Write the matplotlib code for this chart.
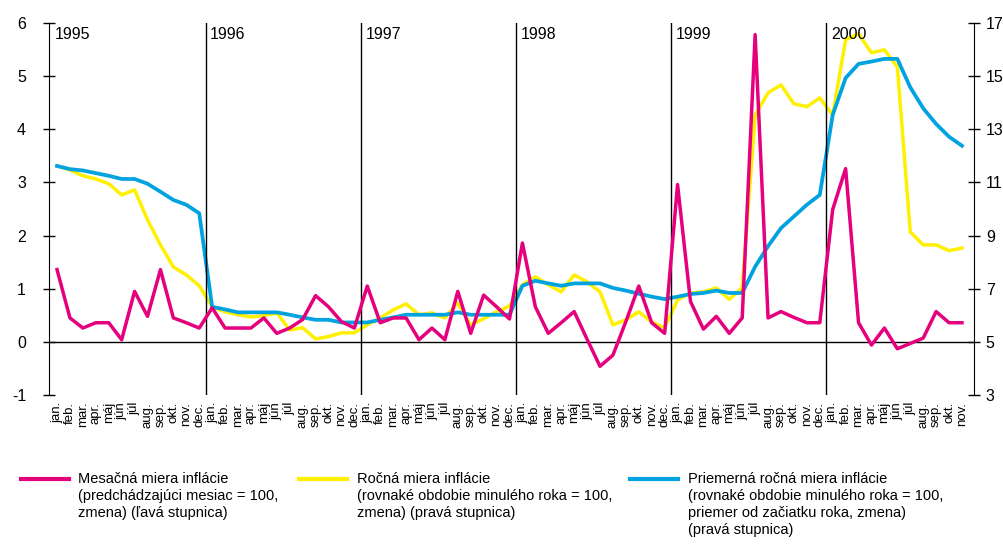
import numpy as np
import matplotlib
matplotlib.use('Agg')
import matplotlib.pyplot as plt
from matplotlib.lines import Line2D

plt.rcParams['font.family'] = ['Liberation Sans', 'DejaVu Sans']
plt.rcParams['axes.unicode_minus'] = False

MONTHS = ['jan.', 'feb.', 'mar.', 'apr.', 'máj', 'jún', 'júl',
          'aug.', 'sep.', 'okt.', 'nov.', 'dec.']
YEARS = ['1995', '1996', '1997', '1998', '1999', '2000']
month_labels = (MONTHS * 6)[:71]

# mesacna miera inflacie (lava stupnica)
monthly = [1.36, 0.45, 0.26, 0.36, 0.36, 0.04, 0.95, 0.48, 1.36, 0.45, 0.36, 0.26,
           0.64, 0.26, 0.26, 0.26, 0.45, 0.16, 0.26, 0.42, 0.87, 0.66, 0.38, 0.26,
           1.05, 0.36, 0.45, 0.45, 0.04, 0.26, 0.04, 0.95, 0.16, 0.88, 0.66, 0.43,
           1.86, 0.66, 0.16, 0.36, 0.57, 0.05, -0.46, -0.25, 0.38, 1.05, 0.36, 0.16,
           2.96, 0.76, 0.24, 0.48, 0.16, 0.45, 5.78, 0.45, 0.57, 0.46, 0.36, 0.36,
           2.49, 3.26, 0.36, -0.06, 0.26, -0.13, -0.03, 0.07, 0.57, 0.36, 0.36]

# rocna miera inflacie (prava stupnica)
annual = [11.62, 11.47, 11.25, 11.13, 10.95, 10.53, 10.72, 9.59, 8.65, 7.82, 7.52, 7.11,
          6.32, 6.13, 6.02, 5.94, 5.98, 6.09, 5.45, 5.53, 5.11, 5.2, 5.34, 5.34,
          5.64, 5.9, 6.2, 6.43, 6.02, 6.09, 5.9, 6.47, 5.64, 5.87, 6.13, 6.35,
          7.15, 7.45, 7.15, 6.88, 7.52, 7.26, 6.88, 5.64, 5.83, 6.13, 5.75, 5.53,
          6.58, 6.84, 6.88, 7.03, 6.6, 7.03, 13.54, 14.37, 14.67, 13.96, 13.85, 14.18,
          13.54, 16.37, 16.59, 15.88, 15.99, 15.35, 9.14, 8.65, 8.65, 8.43, 8.53]

# priemerna rocna miera inflacie (prava stupnica)
average = [11.62, 11.5, 11.45, 11.35, 11.25, 11.13, 11.13, 10.95, 10.65, 10.34, 10.16, 9.84,
           6.32, 6.22, 6.11, 6.11, 6.11, 6.11, 6.02, 5.92, 5.83, 5.83, 5.73, 5.73,
           5.73, 5.83, 5.92, 6.02, 6.02, 6.02, 6.02, 6.11, 6.02, 6.02, 6.02, 6.02,
           7.11, 7.3, 7.2, 7.11, 7.2, 7.2, 7.2, 7.03, 6.93, 6.81, 6.7, 6.61,
           6.7, 6.8, 6.84, 6.93, 6.84, 6.84, 7.83, 8.6, 9.28, 9.72, 10.16, 10.53,
           13.54, 14.93, 15.46, 15.55, 15.65, 15.65, 14.58, 13.79, 13.2, 12.72, 12.38]

legend_labels = [
    'Mesačná miera inflácie\n(predchádzajúci mesiac = 100,\nzmena) (ľavá stupnica)',
    'Ročná miera inflácie\n(rovnaké obdobie minulého roka = 100,\nzmena) (pravá stupnica)',
    'Priemerná ročná miera inflácie\n(rovnaké obdobie minulého roka = 100,\npriemer od začiatku roka, zmena)\n(pravá stupnica)',
]

MAGENTA = '#E5007D'
YELLOW = '#FFF000'
CYAN = '#00A3E0'

fig = plt.figure(figsize=(10.04, 5.56), dpi=100)
ax = fig.add_axes([49 / 1004, 1 - 395 / 556, 925 / 1004, 372 / 556])
ax2 = ax.twinx()

x = np.arange(len(monthly))
ax.set_xlim(-0.62, 70.93)
ax.set_ylim(-1, 6)
ax2.set_ylim(3, 17)

# year separators and zero line
for k, yr in enumerate(YEARS):
    xv = 12 * k - 0.5
    if k > 0:
        ax.axvline(xv, color='black', lw=1.0, zorder=1)
    ax.text(xv + 0.35, 5.93, yr, fontsize=11.5, va='top', ha='left')
ax.axhline(0, color='black', lw=1.0, zorder=1)

ax2.plot(x, annual, color=YELLOW, lw=2.5, zorder=3)
ax2.plot(x, average, color=CYAN, lw=2.7, zorder=4)
ax.plot(x, monthly, color=MAGENTA, lw=2.5, zorder=5)
ax.set_zorder(ax2.get_zorder() + 1)
ax.patch.set_visible(False)

for a in (ax, ax2):
    for s in ('top', 'bottom'):
        a.spines[s].set_visible(False)
ax.spines['right'].set_visible(False)
ax2.spines['left'].set_visible(False)

ax.set_yticks(range(-1, 7))
ax.tick_params(axis='y', direction='inout', length=9, width=1, labelsize=11.5, pad=12)
ax2.set_yticks(range(3, 18, 2))
ax2.tick_params(axis='y', direction='inout', length=9, width=1, labelsize=11.5, pad=4)

ax.set_xticks(x)
ax.set_xticklabels(month_labels, rotation=90, fontsize=9.5)
ax.tick_params(axis='x', length=0, pad=5)

# legend
for (x0, tx), col, lab in zip([(21, 78), (299, 357), (630, 688)],
                              [MAGENTA, YELLOW, CYAN], legend_labels):
    yl = 1 - 479 / 556
    fig.add_artist(Line2D([x0 / 1004, (x0 + 48) / 1004], [yl, yl],
                          color=col, lw=3, transform=fig.transFigure))
    fig.text(tx / 1004, 1 - 472 / 556, lab, fontsize=10.5, va='top', ha='left',
             linespacing=1.27)

fig.savefig('out.png', dpi=100)
